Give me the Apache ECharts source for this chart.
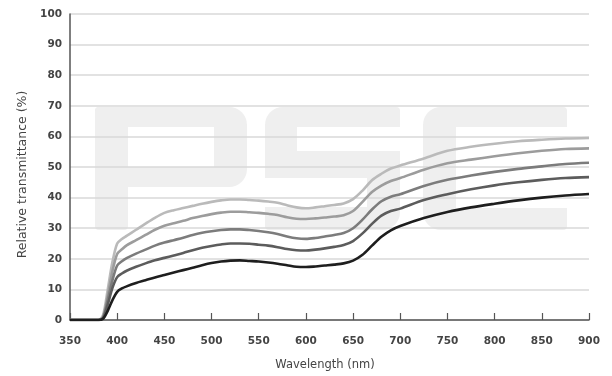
<!DOCTYPE html>
<html>
<head>
<meta charset="utf-8">
<script src="https://cdn.jsdelivr.net/npm/echarts@6/dist/echarts.min.js"></script>
<style>
  html, body { margin: 0; padding: 0; background: #fff; }
  #chart { width: 612px; height: 376px; }
</style>
</head>
<body>
<div id="chart"></div>
<script>
// Wavelength samples (nm)
const wavelengths = [350, 375, 380, 385, 390, 395, 400, 405, 410, 420, 430, 440, 450, 460, 470, 480, 490,
  500, 510, 520, 530, 540, 550, 560, 570, 580, 590, 600, 610, 620, 630, 640, 650, 660, 670, 680, 690, 700,
  725, 750, 775, 800, 825, 850, 875, 900];

// Relative transmittance (%) for five filter densities, darkest first
const seriesA = [0, 0, 0, 0.4, 3, 6.5, 9.2, 10.3, 11, 12.1, 13, 13.9, 14.7, 15.5, 16.3, 17.1, 17.9,
  18.6, 19.1, 19.4, 19.5, 19.3, 19.1, 18.8, 18.4, 17.9, 17.4, 17.3, 17.5, 17.8, 18.1, 18.5, 19.4, 21.3, 24.3, 27.2, 29.3, 30.7,
  33.3, 35.3, 36.8, 38.0, 39.1, 40.0, 40.7, 41.2];
const seriesB = [0, 0, 0, 0.6, 5, 10.5, 14.0, 15.2, 16.1, 17.4, 18.5, 19.5, 20.3, 21.1, 21.9, 22.8, 23.6,
  24.2, 24.7, 25.0, 25.0, 24.9, 24.6, 24.3, 23.8, 23.2, 22.8, 22.7, 23.0, 23.4, 23.9, 24.5, 25.8, 28.3, 31.4, 34.1, 35.6, 36.4,
  39.2, 41.1, 42.7, 44.0, 45.0, 45.8, 46.4, 46.7];
const seriesC = [0, 0, 0, 0.8, 6.5, 13, 17.8, 19.2, 20.2, 21.7, 23.0, 24.3, 25.3, 26.1, 26.9, 27.8, 28.5,
  29.0, 29.4, 29.6, 29.6, 29.4, 29.1, 28.7, 28.1, 27.3, 26.7, 26.5, 26.8, 27.3, 27.8, 28.4, 30.0, 32.8, 36.1, 38.8, 40.3, 41.1,
  43.8, 45.8, 47.2, 48.4, 49.4, 50.2, 51.0, 51.4];
const seriesD = [0, 0, 0, 1.0, 8, 16, 21.6, 23.1, 24.4, 26.1, 27.8, 29.5, 30.8, 31.6, 32.4, 33.3, 34.0,
  34.6, 35.1, 35.4, 35.4, 35.2, 35.0, 34.7, 34.3, 33.6, 33.1, 33.0, 33.2, 33.5, 33.8, 34.2, 35.6, 38.6, 41.8, 43.9, 45.4, 46.4,
  49.1, 51.2, 52.4, 53.5, 54.5, 55.3, 55.9, 56.1];
const seriesE = [0, 0, 0, 1.6, 10, 19, 25.0, 26.5, 27.5, 29.5, 31.5, 33.4, 35.0, 35.9, 36.6, 37.3, 38.0,
  38.6, 39.1, 39.4, 39.4, 39.2, 39.0, 38.7, 38.3, 37.5, 36.8, 36.5, 36.8, 37.2, 37.6, 38.1, 39.5, 42.3, 45.7, 47.8, 49.5, 50.5,
  52.8, 55.3, 56.6, 57.6, 58.4, 58.9, 59.3, 59.5];

const seriesValues = [seriesA, seriesB, seriesC, seriesD, seriesE];
const lineColors = ['#1e1e1e', '#5c5c5c', '#7c7c7c', '#9c9c9c', '#bababa'];

const xTicks = [350, 400, 450, 500, 550, 600, 650, 700, 750, 800, 850, 900];
const yTicks = [0, 10, 20, 30, 40, 50, 60, 70, 80, 90, 100];

const chart = echarts.init(document.getElementById('chart'), null, { renderer: 'canvas' });

const labelFont = { fontFamily: 'DejaVu Sans', fontWeight: 'bold', fontSize: 10.5, color: '#444' };

// Faint blocky "PSC" watermark behind the plot: grey blocks with white counters cut out
const WM = '#efefef';
const block = (x, y, w, h, r, fill) => ({
  type: 'rect', silent: true,
  shape: { x: x, y: y, width: w, height: h, r: r },
  style: { fill: fill }
});
const watermark = {
  type: 'group',
  z: -10,
  silent: true,
  children: [
    // P
    block(95, 107, 152, 80, [4, 18, 18, 0], WM),
    block(95, 107, 33, 123, [4, 0, 4, 4], WM),
    block(128, 127, 86, 40, 0, '#fff'),
    // S
    block(265, 107, 135, 123, [18, 4, 18, 4], WM),
    block(297, 127, 104, 24, 0, '#fff'),
    block(264, 178, 103, 29, 0, '#fff'),
    // C
    block(423, 107, 144, 123, [18, 4, 4, 18], WM),
    block(456, 127, 112, 81, 0, '#fff')
  ]
};

chart.setOption({
  animation: false,
  backgroundColor: '#fff',
  grid: { left: 70, right: 23, top: 14, bottom: 50, containLabel: false },
  graphic: [watermark],
  xAxis: {
    type: 'value',
    min: xTicks[0],
    max: xTicks[xTicks.length - 1],
    interval: 50,
    name: 'Wavelength (nm)',
    nameLocation: 'middle',
    nameGap: 39,
    nameTextStyle: { fontFamily: 'DejaVu Sans', fontSize: 11.5, color: '#444', padding: [0, 9, 0, 0] },
    axisLine: { lineStyle: { color: '#555', width: 1.5 } },
    axisTick: { inside: true, length: 7, lineStyle: { color: '#555', width: 1.2 } },
    axisLabel: Object.assign({ margin: 16 }, labelFont),
    splitLine: { show: false }
  },
  yAxis: {
    type: 'value',
    min: yTicks[0],
    max: yTicks[yTicks.length - 1],
    interval: 10,
    name: 'Relative transmittance (%)',
    nameLocation: 'middle',
    nameGap: 38,
    nameTextStyle: { fontFamily: 'DejaVu Sans', fontSize: 12.5, color: '#444', padding: [0, 15, 0, 0] },
    axisLine: { show: true, lineStyle: { color: '#555', width: 1.5 } },
    axisTick: { show: false },
    axisLabel: Object.assign({ margin: 8 }, labelFont),
    splitLine: { lineStyle: { color: '#d8d8d8', width: 1.5 } }
  },
  series: seriesValues.map((vals, i) => ({
    type: 'line',
    data: wavelengths.map((w, j) => [w, vals[j]]),
    smooth: 0.3,
    showSymbol: false,
    z: 10 - i,
    lineStyle: { color: lineColors[i], width: 2.6 }
  }))
});
</script>
</body>
</html>
